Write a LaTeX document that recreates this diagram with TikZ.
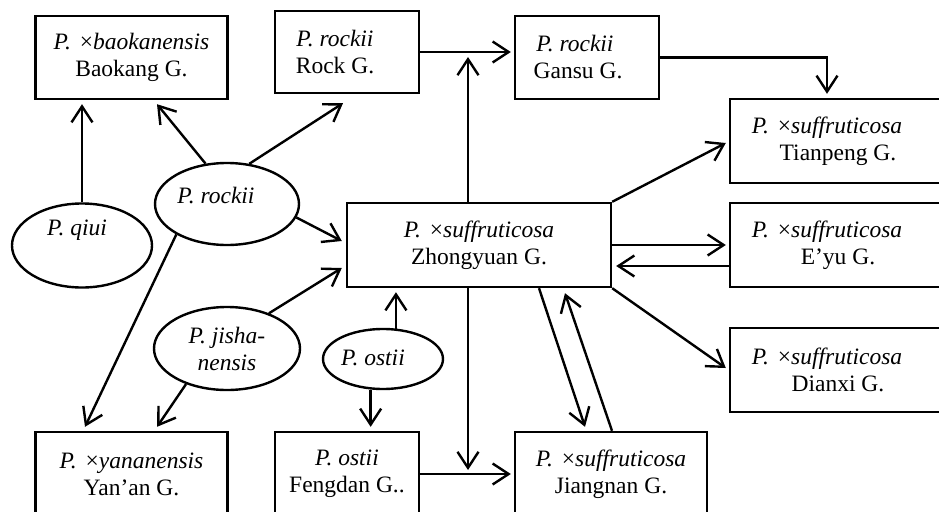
\documentclass[tikz,border=0pt]{standalone}
\usepackage{fontspec}
\setmainfont{Liberation Serif}
\usetikzlibrary{arrows.meta,calc,shapes.geometric}
\tikzset{
  txtfont/.style={font=\fontsize{23.5}{27}\selectfont},
  box/.style={draw, line width=2.4pt, rectangle, align=center, inner sep=0pt, txtfont},
  oval/.style={draw, line width=2.4pt, ellipse, inner sep=0pt, align=center, txtfont},
  etxt/.style={inner sep=0pt, anchor=base, txtfont},
  arr/.style={line width=2.4pt, -{Straight Barb[length=16pt,width=21pt]}},
}
\newcommand{\Px}{\textit{P.}\ \hspace{3pt}×}
\begin{document}
\begin{tikzpicture}[x=1pt,y=-1pt]
\path[use as bounding box] (0,0) rectangle (939,511);
\clip (0,0) rectangle (939,511);

% boxes
\node[box, minimum width=192pt, minimum height=83pt] (baokang) at (131.5,57.5) {\Px\textit{baokanensis}\\Baokang G.};
\node[box, minimum width=144pt, minimum height=82pt] (rock) at (347,52) {\textit{P. rockii}\hspace*{24pt}\\Rock G.\hspace*{24pt}};
\node[box, minimum width=144pt, minimum height=83pt] (gansu) at (587,57.5) {\textit{P. rockii}\hspace*{24pt}\\Gansu G.\hspace*{18pt}};
\node[box, minimum width=264pt, minimum height=84pt] (zhong) at (479,245) {\Px\textit{suffruticosa}\\Zhongyuan G.};
\node[box, minimum width=216pt, minimum height=84pt] (tian) at (838,141) {\Px\textit{suffruticosa}\hspace*{22pt}\\Tianpeng G.};
\node[box, minimum width=216pt, minimum height=84pt] (eyu) at (838,245) {\Px\textit{suffruticosa}\hspace*{22pt}\\E’yu G.};
\node[box, minimum width=216pt, minimum height=84pt] (dianxi) at (838,370) {\Px\textit{suffruticosa}\hspace*{22pt}\\Dianxi G.};
\node[box, minimum width=192pt, minimum height=84pt] (yanan) at (131.5,474) {\Px\textit{yananensis}\\Yan’an G.};
\node[box, minimum width=144pt, minimum height=84pt] (fengdan) at (347,474) {\textit{P. ostii}\\Fengdan G..};
\node[box, minimum width=192pt, minimum height=84pt] (jiangnan) at (611,474) {\Px\textit{suffruticosa}\\Jiangnan G.};

% ellipses
\node[oval, minimum width=140pt, minimum height=84pt] (qiui) at (82,245.5) {};
\node[etxt] (qiuit) at (77,235) {\textit{P. qiui}};
\node[oval, minimum width=144pt, minimum height=82pt] (rockii) at (227,204) {};
\node[etxt] (rockiit) at (216,203) {\textit{P. rockii}};
\node[oval, minimum width=146pt, minimum height=83pt] (jisha) at (227,348.5) {\textit{P. jisha-}\\\textit{nensis}};
\node[oval, minimum width=120pt, minimum height=60pt] (ostii) at (383,359) {};
\node[etxt] (ostiit) at (373,365) {\textit{P. ostii}};

% connectors
\draw[arr, shorten >=4pt] (qiui.north) -- (qiui.north |- baokang.south);
\draw[arr] (rockii.118) -- ([shift={(25.5,4)}]baokang.south);
\draw[arr] (rockii.61) -- ([shift={(-4,9)}]rock.south);
\draw[arr] (rockii.349) -- ([shift={(-4,-4)}]zhong.west);
\draw[arr] (rockii.211) -- ([shift={(-46.5,-4)}]yanan.north);
\draw[arr] (jisha.40) -- ([shift={(-4,23)}]zhong.west);
\draw[arr] (jisha.221) -- ([shift={(25.5,-4)}]yanan.north);
\draw[arr, shorten >=4pt] (ostii.67) -- (ostii.67 |- zhong.south);
\draw[arr, shorten >=4pt] (ostii.248) -- (ostii.248 |- fengdan.north);
\draw[arr, shorten >=3pt] (rock.east) -- (rock.east -| gansu.west);
\draw[arr, shorten >=5pt] ([xshift=-11pt]zhong.north) -- ([xshift=-11pt]zhong.north |- rock.east);
\draw[arr, shorten >=4pt] (gansu.east) -| ([xshift=-11pt]tian.north);
\draw[arr] (zhong.north east) -- ([shift={(-3,2)}]tian.west);
\draw[arr, shorten >=3pt] (zhong.east) -- (eyu.west);
\draw[arr, shorten >=4pt] ([yshift=-21pt]eyu.west) -- ([yshift=-21pt]eyu.west -| zhong.east);
\draw[arr] (zhong.south east) -- ([shift={(-3,-2)}]dianxi.west);
\draw[arr] ([xshift=60pt]zhong.south) -- ([shift={(-26,-4)}]jiangnan.north);
\draw[arr] ([xshift=1pt]jiangnan.north) -- ([shift={(86,5)}]zhong.south);
\draw[arr, shorten >=4pt] ([xshift=-11pt]zhong.south) -- ([xshift=-11pt]zhong.south |- fengdan.east);
\draw[arr, shorten >=3pt] (fengdan.east) -- (jiangnan.west);
\end{tikzpicture}
\end{document}
